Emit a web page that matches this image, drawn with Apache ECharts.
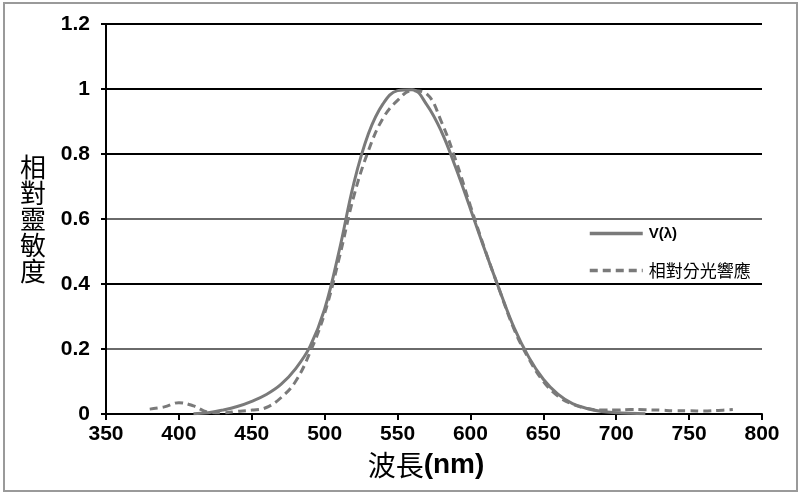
<!DOCTYPE html>
<html lang="zh-Hant">
<head>
	<meta charset="UTF-8">
	<title>相對靈敏度</title>
	<script src="https://cdn.jsdelivr.net/npm/echarts@6/dist/echarts.min.js"></script>
	<style>
		html, body { margin: 0; padding: 0; background: #fff; }
		#chart { width: 801px; height: 496px; }
	</style>
</head>
<body>
	<div id="chart"></div>

	<script>
		// V(λ) 曲線
		var vWave = [410, 420, 430, 440, 450, 460, 470, 480, 490, 500, 510, 520, 530, 540, 550, 560,
			570, 580, 590, 600, 610, 620, 630, 640, 650, 660, 670, 680, 690, 700, 710, 720];
		var vValue = [0.001, 0.004, 0.012, 0.023, 0.039, 0.06, 0.091, 0.139, 0.208, 0.323, 0.503, 0.71,
			0.862, 0.954, 0.995, 0.998, 0.952, 0.87, 0.757, 0.631, 0.503, 0.381, 0.265, 0.175, 0.107,
			0.061, 0.032, 0.017, 0.008, 0.004, 0.002, 0.001];

		// 相對分光響應 曲線
		var rWave = [380, 390, 400, 410, 420, 430, 440, 450, 460, 470, 480, 490, 500, 510, 520, 530,
			540, 550, 560, 570, 580, 590, 600, 610, 620, 630, 640, 650, 660, 670, 680, 690, 700, 710,
			720, 730, 740, 750, 760, 770, 780];
		var rValue = [0.015, 0.022, 0.035, 0.025, 0.006, 0.004, 0.008, 0.012, 0.02, 0.05, 0.1, 0.19,
			0.31, 0.48, 0.67, 0.81, 0.91, 0.965, 0.995, 0.985, 0.9, 0.78, 0.64, 0.505, 0.38, 0.26, 0.17,
			0.1, 0.055, 0.03, 0.017, 0.012, 0.012, 0.014, 0.013, 0.012, 0.01, 0.01, 0.009, 0.011, 0.014];

		var seriesNames = ['V(λ)', '相對分光響應'];

		function pairs(xs, ys) {
			return xs.map(function (x, i) { return [x, ys[i]]; });
		}

		var latin = '"Liberation Sans", Arial, sans-serif';
		var cjk = '"Noto Sans CJK TC", "Noto Sans CJK SC", sans-serif';

		var chart = echarts.init(document.getElementById('chart'));
		var option = {
			backgroundColor: '#fff',
			animation: false,
			graphic: [{
				type: 'rect',
				shape: { x: 4, y: 3, width: 793, height: 488 },
				style: { fill: 'none', stroke: '#9a9a9a', lineWidth: 2 }
			}],
			grid: { left: 106, right: 39, top: 24, bottom: 82 },
			legend: {
				orient: 'vertical',
				left: 583,
				top: 221,
				itemWidth: 53,
				itemHeight: 14,
				itemGap: 21,
				data: seriesNames,
				itemStyle: { color: 'rgba(0,0,0,0)', borderColor: 'rgba(0,0,0,0)', borderWidth: 0 },
				lineStyle: { width: 3.5 },
				formatter: function (name) {
					return name === seriesNames[0] ? '{a|' + name + '}' : '{b|' + name + '}';
				},
				textStyle: {
					padding: [0, 0, 0, 1],
					rich: {
						a: { fontFamily: latin, fontWeight: 'bold', fontSize: 15, color: '#000' },
						b: { fontFamily: cjk, fontSize: 17, color: '#000' }
					}
				}
			},
			xAxis: {
				type: 'value',
				min: 350,
				max: 800,
				interval: 50,
				name: '{a|波長}{b|(nm)}',
				nameLocation: 'middle',
				nameGap: 37,
				nameTextStyle: {
					padding: [0, 16, 0, 0],
					rich: {
						a: { fontFamily: cjk, fontSize: 28, color: '#000' },
						b: { fontFamily: latin, fontWeight: 'bold', fontSize: 28, color: '#000' }
					}
				},
				axisLine: { lineStyle: { color: '#000', width: 2 } },
				axisTick: { show: true, inside: false, length: 6, lineStyle: { color: '#000', width: 2 } },
				axisLabel: { color: '#000', fontFamily: latin, fontWeight: 'bold', fontSize: 21, margin: 10 },
				splitLine: { show: false }
			},
			yAxis: {
				type: 'value',
				min: 0,
				max: 1.2,
				interval: 0.2,
				name: '相\n對\n靈\n敏\n度',
				nameLocation: 'middle',
				nameRotate: 0,
				nameGap: 60,
				nameTextStyle: { fontFamily: cjk, fontSize: 26, lineHeight: 26, color: '#000' },
				axisLine: { show: true, lineStyle: { color: '#000', width: 2 } },
				axisTick: { show: true, inside: false, length: 5, lineStyle: { color: '#000', width: 2 } },
				axisLabel: { color: '#000', fontFamily: latin, fontWeight: 'bold', fontSize: 21, margin: 16 },
				splitLine: {
					show: true,
					lineStyle: {
						color: ['#000', '#6a6a6a', '#000', '#6a6a6a', '#000', '#000', '#000'],
						width: 2
					}
				}
			},
			series: [
				{
					name: seriesNames[0],
					type: 'line',
					data: pairs(vWave, vValue),
					smooth: 0.4,
					showSymbol: false,
					symbol: 'none',
					lineStyle: { color: '#7a7a7a', width: 3 },
					itemStyle: { color: '#7a7a7a' }
				},
				{
					name: seriesNames[1],
					type: 'line',
					data: pairs(rWave, rValue),
					smooth: 0.4,
					showSymbol: false,
					symbol: 'none',
					lineStyle: { color: '#7a7a7a', width: 3, type: [8, 5] },
					itemStyle: { color: '#7a7a7a' }
				}
			]
		};
		chart.setOption(option);
	</script>
</body>
</html>
